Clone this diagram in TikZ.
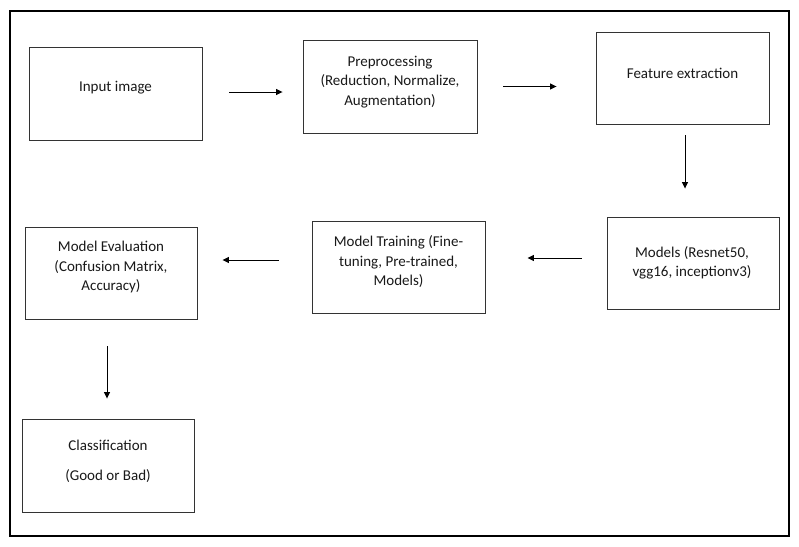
\documentclass[tikz,border=0pt]{standalone}
\usepackage{fontspec}
\setmainfont{Carlito}
\usetikzlibrary{arrows.meta}
\begin{document}
\begin{tikzpicture}[x=1pt,y=-1pt,
  box/.style={draw=black!80,line width=0.9pt,inner sep=0pt},
  lbl/.style={align=center,font=\fontsize{15}{19.5}\selectfont,text=black!90,inner sep=0pt},
  arr/.style={line width=0.9pt,-{Triangle[length=6.5pt,width=6pt]}},
  frame/.style={draw=black,line width=2pt}]
\useasboundingbox (0,0) rectangle (799,546);
\fill[white] (0,0) rectangle (799,546);
\draw[frame] (10,11) rectangle (789,536);
% boxes
\node[box,minimum width=173pt,minimum height=93pt] (in) at (115.5,93.5) {};
\node[box,minimum width=174pt,minimum height=93pt] (pre) at (390,86.5) {};
\node[box,minimum width=173pt,minimum height=92pt] (fe) at (682.5,78) {};
\node[box,minimum width=172pt,minimum height=92pt] (mo) at (693,263) {};
\node[box,minimum width=173pt,minimum height=92pt] (tr) at (398.5,267) {};
\node[box,minimum width=172pt,minimum height=92pt] (ev) at (111,273) {};
\node[box,minimum width=172pt,minimum height=93pt] (cl) at (108,465.5) {};
% texts
\node[lbl] (tin) at (115.5,88) {Input image};
\node[lbl] (tpre) at (390,82) {Preprocessing\\(Reduction, Normalize,\\Augmentation)};
\node[lbl] (tfe) at (682.5,73) {Feature extraction};
\node[lbl] (tmo) at (692,263) {Models (Resnet50,\\vgg16, inceptionv3)};
\node[lbl] (ttr) at (398.5,262) {Model Training (Fine-\\tuning, Pre-trained,\\Models)};
\node[lbl] (tev) at (111,267) {Model Evaluation\\(Confusion Matrix,\\Accuracy)};
\node[lbl] (tcl1) at (108,445) {Classification};
\node[lbl] (tcl2) at (108,476) {(Good or Bad)};
% connectors
\draw[arr,shorten <=27pt,shorten >=20pt] ([yshift=1.5pt]in.east) -- ([yshift=1.5pt]in.east -| pre.west);
\draw[arr,shorten <=26pt,shorten >=39pt] (pre.east) -- (pre.east -| fe.west);
\draw[arr,shorten <=11pt,shorten >=28pt] ([xshift=2.5pt]fe.south) -- ([xshift=2.5pt]fe.south |- mo.north);
\draw[arr,shorten <=25pt,shorten >=42pt] ([yshift=5pt]mo.west) -- ([yshift=5pt]mo.west -| tr.east);
\draw[arr,shorten <=33pt,shorten >=25pt] ([yshift=7pt]tr.west) -- ([yshift=7pt]tr.west -| ev.east);
\draw[arr,shorten <=27pt,shorten >=20pt] ([xshift=-4pt]ev.south) -- ([xshift=-4pt]ev.south |- cl.north);
\end{tikzpicture}
\end{document}
